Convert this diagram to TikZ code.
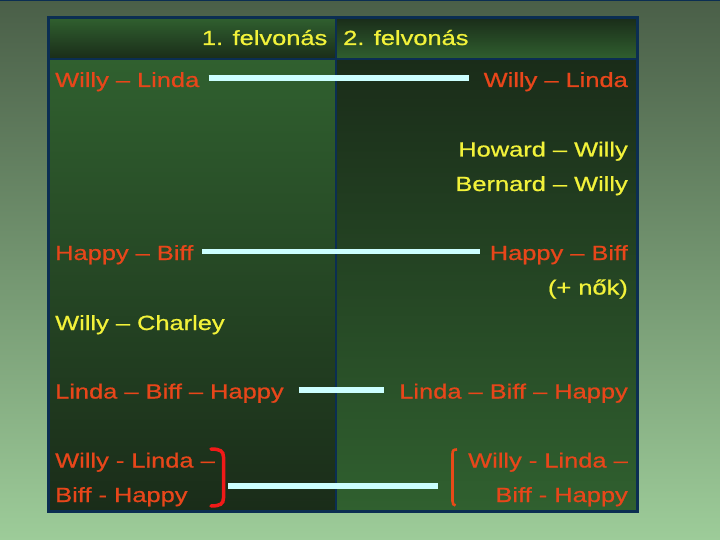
\documentclass[tikz,border=0pt]{standalone}
\usepackage{fontspec}
\setmainfont{Liberation Sans}[FakeStretch=1.24,FakeBold=0.8]
\definecolor{bgtop}{HTML}{4A5F48}
\definecolor{bgbot}{HTML}{9DCC99}
\definecolor{cellgreen}{HTML}{30602F}
\definecolor{celldark}{HTML}{1A2C19}
\definecolor{navy}{HTML}{0B2E52}
\definecolor{txtred}{HTML}{E8461A}
\definecolor{txtyel}{HTML}{F2F23A}
\definecolor{barcol}{HTML}{CCFFFF}
\definecolor{brkred}{HTML}{F01A18}
\definecolor{brkorg}{HTML}{E84A18}
\begin{document}
\begin{tikzpicture}[x=1pt,y=-1pt,
  lbl/.style={inner sep=0pt,font=\fontsize{20.5}{24}\selectfont},
  redtxt/.style={lbl,text=txtred},
  yeltxt/.style={lbl,text=txtyel},
  barline/.style={draw=barcol,line width=5.5pt},
  gridline/.style={draw=navy}]
\useasboundingbox (0,0) rectangle (720,540);
% background
\shade[top color=bgtop,bottom color=bgbot] (0,0) rectangle (720,540);
\fill[navy] (0,0) rectangle (720,1.5);
% cells
\shade[top color=cellgreen,bottom color=celldark] (48,17.5) rectangle (335.5,59);
\shade[top color=celldark,bottom color=cellgreen] (335.5,17.5) rectangle (637,59);
\shade[top color=cellgreen,bottom color=celldark] (48,59) rectangle (335.5,511);
\shade[top color=celldark,bottom color=cellgreen] (335.5,59) rectangle (637,511);
% grid
\draw[gridline,line width=2.5pt] (48,59) -- (637,59);
\draw[gridline,line width=2pt] (335.5,17.5) -- (335.5,511);
\draw[gridline,line width=3pt] (48,17.5) rectangle (637,511);
% header
\node[yeltxt,anchor=base east] (h1) at (327.5,45) {1. felvonás};
\node[yeltxt,anchor=base west] (h2) at (343,45) {2. felvonás};
% left column
\node[redtxt,anchor=base west] (wl1) at (55,87) {Willy – Linda};
\node[redtxt,anchor=base west] (hb1) at (55,260) {Happy – Biff};
\node[yeltxt,anchor=base west] (wc1) at (55,330) {Willy – Charley};
\node[redtxt,anchor=base west] (lbh1) at (55,398.5) {Linda – Biff – Happy};
\node[redtxt,anchor=base west] (wlb1a) at (55,467.5) {Willy - Linda –};
\node[redtxt,anchor=base west] (wlb1b) at (55,502) {Biff - Happy};
% right column
\node[redtxt,anchor=base east] (wl2) at (628,87) {Willy – Linda};
\node[yeltxt,anchor=base east] (hw2) at (628,156.5) {Howard – Willy};
\node[yeltxt,anchor=base east] (bw2) at (628,191) {Bernard – Willy};
\node[redtxt,anchor=base east] (hb2) at (628,260) {Happy – Biff};
\node[yeltxt,anchor=base east] (nk2) at (628,294.5) {(+ nők)};
\node[redtxt,anchor=base east] (lbh2) at (628,398.5) {Linda – Biff – Happy};
\node[redtxt,anchor=base east] (wlb2a) at (628,467.5) {Willy - Linda –};
\node[redtxt,anchor=base east] (wlb2b) at (628,502) {Biff - Happy};
% brackets
\coordinate (lbr) at (225,486);
\coordinate (rbr) at (450,486);
\draw[brkred,line width=3.5pt,line cap=round] (211,449) .. controls (220,449) and (223.5,451) .. (223.5,457) -- (223.5,498) .. controls (223.5,504) and (220,506) .. (211,506);
\draw[brkorg,line width=2.6pt] (457,449.5) .. controls (453.5,449.5) and (452.5,450.5) .. (452.5,454) -- (452.5,501) .. controls (452.5,504) and (453.5,505) .. (455.5,505.5);
% connectors
\draw[barline] ([xshift=9pt]wl1.east |- 0,77.8) -- ([xshift=-15pt]wl2.west |- 0,77.8);
\draw[barline] ([xshift=9pt]hb1.east |- 0,251.7) -- ([xshift=-10pt]hb2.west |- 0,251.7);
\draw[barline] ([xshift=15pt]lbh1.east |- 0,390) -- ([xshift=-15pt]lbh2.west |- 0,390);
\draw[barline] ([xshift=3pt]lbr) -- ([xshift=-12pt]rbr);
\end{tikzpicture}
\end{document}
